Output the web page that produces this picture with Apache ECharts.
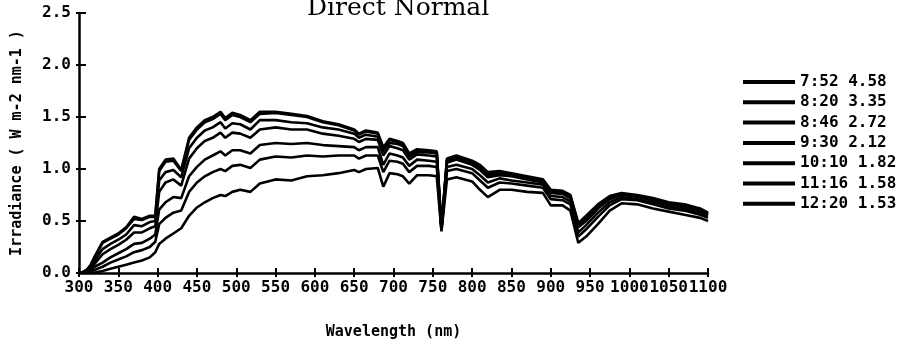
<!DOCTYPE html>
<html>
<head>
<meta charset="utf-8">
<script src="https://cdn.jsdelivr.net/npm/echarts@6/dist/echarts.min.js"></script>
<style>
html,body{margin:0;padding:0;background:#fff;}
#chart{width:904px;height:349px;}
</style>
</head>
<body>
<div id="chart"></div>
<script>
// Wavelength grid (nm)
const wavelengths = [300,305,310,315,320,330,340,350,360,370,380,390,397,402,410,420,430,440,450,460,470,480,486,495,505,518,530,550,570,590,610,630,650,656,665,680,687,695,705,712,720,730,745,755,761,768,780,800,810,820,835,850,870,890,900,915,925,935,945,960,975,990,1010,1030,1050,1070,1090,1100];

const seriesNames = ["7:52 4.58","8:20 3.35","8:46 2.72","9:30 2.12","10:10 1.82","11:16 1.58","12:20 1.53"];

const s0752 = [0,0,0,0,0.005,0.02,0.04,0.06,0.08,0.10,0.12,0.15,0.20,0.28,0.33,0.38,0.43,0.55,0.63,0.68,0.72,0.75,0.74,0.78,0.80,0.78,0.86,0.90,0.89,0.93,0.94,0.96,0.99,0.97,1.00,1.01,0.83,0.96,0.95,0.93,0.86,0.94,0.94,0.93,0.40,0.90,0.92,0.88,0.80,0.73,0.80,0.80,0.78,0.77,0.65,0.65,0.60,0.29,0.35,0.47,0.60,0.67,0.66,0.62,0.59,0.56,0.53,0.50];
const s0820 = [0,0,0.005,0.015,0.03,0.06,0.10,0.13,0.16,0.20,0.22,0.25,0.30,0.47,0.53,0.58,0.60,0.78,0.87,0.93,0.97,1.00,0.98,1.03,1.04,1.01,1.09,1.12,1.11,1.13,1.12,1.13,1.13,1.10,1.13,1.13,0.97,1.08,1.07,1.05,0.97,1.03,1.03,1.02,0.41,0.98,1.00,0.96,0.89,0.82,0.87,0.86,0.84,0.82,0.71,0.70,0.66,0.35,0.42,0.54,0.65,0.71,0.70,0.66,0.62,0.60,0.56,0.53];
const s0846 = [0,0,0.01,0.03,0.06,0.10,0.15,0.19,0.23,0.28,0.29,0.33,0.37,0.61,0.68,0.73,0.72,0.93,1.02,1.09,1.13,1.17,1.13,1.18,1.18,1.15,1.23,1.25,1.24,1.25,1.23,1.22,1.21,1.18,1.21,1.21,1.04,1.15,1.13,1.11,1.03,1.09,1.08,1.07,0.42,1.02,1.04,1.00,0.94,0.87,0.91,0.89,0.87,0.85,0.74,0.73,0.69,0.39,0.46,0.58,0.68,0.73,0.71,0.68,0.64,0.62,0.58,0.55];
const s0930 = [0,0,0.015,0.045,0.09,0.18,0.23,0.27,0.32,0.39,0.39,0.43,0.45,0.78,0.87,0.90,0.84,1.10,1.20,1.27,1.30,1.35,1.30,1.35,1.34,1.30,1.38,1.40,1.38,1.38,1.34,1.32,1.29,1.26,1.29,1.28,1.13,1.22,1.20,1.18,1.09,1.14,1.13,1.12,0.43,1.06,1.09,1.04,0.99,0.92,0.94,0.93,0.90,0.87,0.77,0.76,0.72,0.44,0.50,0.62,0.71,0.75,0.73,0.70,0.66,0.64,0.60,0.56];
const s1010 = [0,0.005,0.02,0.06,0.12,0.23,0.28,0.32,0.37,0.46,0.45,0.49,0.50,0.89,0.97,0.99,0.92,1.20,1.30,1.37,1.40,1.45,1.39,1.44,1.43,1.38,1.47,1.47,1.45,1.44,1.40,1.38,1.34,1.30,1.33,1.31,1.17,1.25,1.24,1.22,1.12,1.16,1.16,1.15,0.43,1.08,1.11,1.06,1.01,0.94,0.96,0.94,0.92,0.89,0.78,0.78,0.73,0.46,0.53,0.64,0.73,0.76,0.74,0.71,0.67,0.65,0.61,0.57];
const s1116 = [0,0.01,0.03,0.075,0.15,0.29,0.33,0.37,0.43,0.52,0.51,0.54,0.54,0.98,1.07,1.08,0.98,1.28,1.38,1.45,1.48,1.53,1.47,1.52,1.50,1.45,1.53,1.54,1.52,1.50,1.45,1.42,1.37,1.33,1.36,1.34,1.20,1.28,1.26,1.24,1.14,1.18,1.17,1.16,0.44,1.09,1.12,1.07,1.03,0.96,0.97,0.95,0.92,0.89,0.79,0.78,0.74,0.47,0.54,0.65,0.73,0.76,0.74,0.71,0.67,0.65,0.61,0.57];
const s1220 = [0,0.01,0.03,0.08,0.16,0.30,0.34,0.38,0.44,0.54,0.52,0.55,0.55,1.00,1.09,1.10,0.99,1.30,1.40,1.47,1.50,1.55,1.49,1.54,1.52,1.47,1.55,1.55,1.53,1.51,1.46,1.43,1.38,1.34,1.37,1.35,1.21,1.29,1.27,1.25,1.15,1.19,1.18,1.17,0.44,1.10,1.13,1.08,1.04,0.97,0.98,0.96,0.93,0.90,0.80,0.79,0.75,0.48,0.55,0.66,0.74,0.77,0.75,0.72,0.68,0.66,0.62,0.58];

const seriesValues = [s0752,s0820,s0846,s0930,s1010,s1116,s1220];

const xTicks = {min:300, max:1100, step:50};
const yTicks = {min:0, max:2.5, step:0.5};

const FONT = 'DejaVu Sans Mono';
const chart = echarts.init(document.getElementById('chart'), null, {renderer:'canvas'});

const series = seriesNames.map((name, k) => ({
  name: name,
  type: 'line',
  data: wavelengths.map((w, i) => [w, seriesValues[k][i]]),
  showSymbol: false,
  symbol: 'none',
  lineStyle: {color:'#000', width:2.6},
  itemStyle: {color:'#000'},
  animation: false
}));

const tickOnlyX = {
  type: 'value', position: 'bottom',
  min: xTicks.min, max: xTicks.max, interval: xTicks.step,
  axisLine: {show: false},
  axisTick: {show: true, inside: false, length: 4, lineStyle: {color: '#000', width: 2}},
  axisLabel: {show: false},
  splitLine: {show: false}
};
const tickOnlyY = {
  type: 'value', position: 'left',
  min: yTicks.min, max: yTicks.max, interval: yTicks.step,
  axisLine: {show: false},
  axisTick: {show: true, inside: false, length: 3, lineStyle: {color: '#000', width: 2}},
  axisLabel: {show: false},
  splitLine: {show: false}
};

chart.setOption({
  animation: false,
  backgroundColor: '#fff',
  title: {
    text: 'Direct Normal',
    left: 302,
    top: -9,
    textStyle: {fontFamily: 'DejaVu Serif', fontWeight: 'normal', fontSize: 25, color: '#000'}
  },
  legend: {
    orient: 'vertical',
    left: 738,
    top: 69,
    icon: 'rect',
    itemWidth: 52,
    itemHeight: 4,
    itemGap: 4.3,
    textStyle: {fontFamily: FONT, fontWeight: 'bold', fontSize: 16, color: '#000', lineHeight: 16},
    data: seriesNames
  },
  grid: {left: 79, right: 196, top: 13, bottom: 76, containLabel: false},
  xAxis: [{
    type: 'value', position: 'bottom',
    min: xTicks.min, max: xTicks.max, interval: xTicks.step,
    name: 'Wavelength (nm)',
    nameLocation: 'middle',
    nameGap: 52,
    nameTextStyle: {fontFamily: FONT, fontWeight: 'bold', fontSize: 15, color: '#000'},
    axisLine: {show: true, lineStyle: {color: '#000', width: 2.5}},
    axisTick: {show: true, inside: true, length: 5, lineStyle: {color: '#000', width: 2}},
    axisLabel: {color: '#000', fontFamily: FONT, fontWeight: 'bold', fontSize: 16, margin: 7,
      showMinLabel: true, showMaxLabel: true, hideOverlap: false,
      formatter: v => String(v)},
    splitLine: {show: false}
  }, tickOnlyX],
  yAxis: [{
    type: 'value', position: 'left',
    min: yTicks.min, max: yTicks.max, interval: yTicks.step,
    name: 'Irradiance ( W m-2 nm-1 )',
    nameLocation: 'middle',
    nameGap: 54,
    nameTextStyle: {fontFamily: FONT, fontWeight: 'bold', fontSize: 15, color: '#000'},
    axisLine: {show: true, lineStyle: {color: '#000', width: 2.5}},
    axisTick: {show: true, inside: true, length: 7, lineStyle: {color: '#000', width: 2}},
    axisLabel: {color: '#000', fontFamily: FONT, fontWeight: 'bold', fontSize: 16, margin: 8,
      formatter: v => v.toFixed(1)},
    splitLine: {show: false}
  }, tickOnlyY],
  series: series
});
</script>
</body>
</html>
